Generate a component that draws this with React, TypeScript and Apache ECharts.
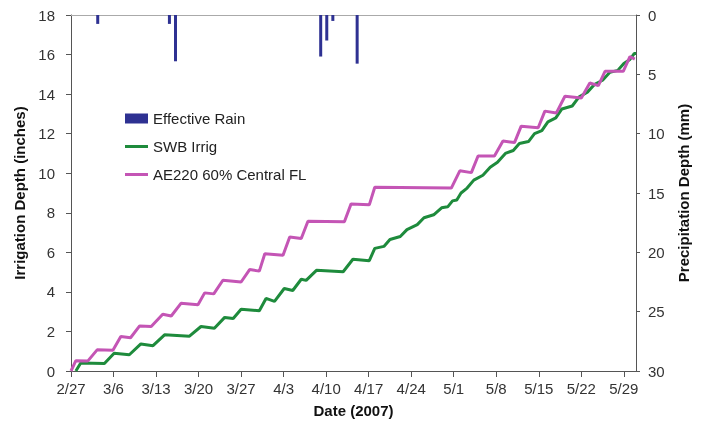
import React, { useEffect, useRef } from "react";
import * as echarts from "echarts";

// x values are days after 2/27/2007
const dateLabels = ["2/27", "3/6", "3/13", "3/20", "3/27", "4/3", "4/10", "4/17", "4/24", "5/1", "5/8", "5/15", "5/22", "5/29"];

const rainDays = [4.4, 16.2, 17.2, 41.1, 42.1, 43.1, 47.1];
const rainMm = [0.75, 0.75, 3.9, 3.5, 2.15, 0.5, 4.1];

const swbDays = [0.8, 1.6, 5.5, 7.1, 9.6, 11.5, 13.5, 15.4, 19.5, 21.4, 23.6, 25.3, 26.7, 28, 31, 32.1, 33.5, 35.1, 36.5, 37.9, 38.7, 40.4, 44.8, 46.4, 49.1, 50, 51.5, 52.5, 54.2, 55.3, 57, 58.1, 59.7, 61, 62, 62.8, 63.5, 64.2, 65.2, 66.3, 67.8, 69, 70.2, 71.5, 72.8, 73.8, 75.3, 76.3, 77.5, 78.5, 79.8, 80.8, 82.5, 83.6, 85, 86.2, 87.5, 88.7, 90, 91, 92, 92.7, 93];
const swbInches = [0, 0.4, 0.38, 0.9, 0.82, 1.37, 1.28, 1.83, 1.76, 2.25, 2.16, 2.71, 2.65, 3.12, 3.05, 3.67, 3.52, 4.17, 4.07, 4.64, 4.58, 5.09, 5.02, 5.65, 5.58, 6.2, 6.3, 6.65, 6.8, 7.15, 7.4, 7.75, 7.9, 8.25, 8.3, 8.6, 8.65, 9.0, 9.25, 9.65, 9.9, 10.3, 10.55, 11.0, 11.15, 11.5, 11.6, 12.0, 12.15, 12.6, 12.8, 13.25, 13.4, 13.85, 14.1, 14.5, 14.7, 15.1, 15.2, 15.55, 15.75, 16.05, 16.05];

const aeDays = [0, 0.8, 2.75, 4.3, 6.9, 8.2, 9.8, 11.3, 13.2, 15.1, 16.5, 18.1, 20.9, 22, 23.5, 25, 28, 29.4, 31, 31.9, 34.9, 36, 37.9, 39, 45, 46.1, 49.1, 50, 62.6, 64, 65.9, 67, 69.7, 71.1, 73, 74.1, 76.9, 78, 79.9, 81.3, 84, 85.4, 86.8, 87.9, 90.9, 92, 92.8];
const aeInches = [0, 0.52, 0.5, 1.07, 1.05, 1.74, 1.68, 2.28, 2.25, 2.87, 2.78, 3.42, 3.35, 3.95, 3.9, 4.59, 4.5, 5.13, 5.05, 5.93, 5.85, 6.77, 6.7, 7.57, 7.55, 8.45, 8.4, 9.29, 9.25, 10.12, 10.03, 10.87, 10.87, 11.63, 11.55, 12.38, 12.3, 13.14, 13.05, 13.89, 13.8, 14.56, 14.43, 15.15, 15.15, 15.9, 15.77];

const FONT = "Liberation Sans, Arial, sans-serif";
const RAIN = "#2E3192";
const SWB = "#1E8B3C";
const AE = "#C455B5";
const LINE_ICON = "path://M0 0H23V3H0Z";

export default function App() {
  const ref = useRef<HTMLDivElement>(null);
  useEffect(() => {
    if (!ref.current) return;
    const chart = echarts.init(ref.current, null, { renderer: "svg" });
    const zip = (a: number[], b: number[]) => a.map((v, i) => [v, b[i]]);
    chart.setOption({
      animation: false,
      textStyle: { fontFamily: FONT },
      grid: { left: 71, right: 68, top: 15, bottom: 50 },
      legend: {
        orient: "vertical",
        left: 120,
        top: 106,
        itemWidth: 23,
        itemHeight: 10,
        itemGap: 13,
        textStyle: { fontSize: 15, color: "#222", fontFamily: FONT },
        data: [
          { name: "Effective Rain", icon: "rect", itemStyle: { color: RAIN } },
          { name: "SWB Irrig", icon: LINE_ICON, itemStyle: { color: SWB } },
          { name: "AE220 60% Central FL", icon: LINE_ICON, itemStyle: { color: AE } },
        ],
      },
      xAxis: [
        {
          type: "value",
          min: 0,
          max: 93,
          interval: 7,
          name: "Date (2007)",
          nameLocation: "middle",
          nameGap: 32,
          nameTextStyle: { fontSize: 15, fontWeight: "bold", color: "#111", fontFamily: FONT },
          axisLine: { onZero: false, lineStyle: { color: "#555", width: 1 } },
          axisTick: { inside: false, length: 6, lineStyle: { color: "#555" } },
          axisLabel: {
            fontSize: 15,
            color: "#333",
            margin: 10,
            showMaxLabel: false,
            formatter: (v: number) => (v % 7 === 0 && dateLabels[v / 7] ? dateLabels[v / 7] : ""),
          },
          splitLine: { show: false },
        },
        {
          type: "value",
          position: "top",
          min: 0,
          max: 93,
          axisLine: { show: true, onZero: false, lineStyle: { color: "#aaa", width: 1 } },
          axisTick: { show: false },
          axisLabel: { show: false },
          splitLine: { show: false },
        },
      ],
      yAxis: [
        {
          type: "value",
          position: "left",
          min: 0,
          max: 18,
          interval: 2,
          name: "Irrigation Depth (inches)",
          nameLocation: "middle",
          nameRotate: 90,
          nameGap: 42,
          nameTextStyle: { fontSize: 15, fontWeight: "bold", color: "#111", fontFamily: FONT },
          axisLine: { show: true, onZero: false, lineStyle: { color: "#555", width: 1 } },
          axisTick: { show: true, length: 5, lineStyle: { color: "#555" } },
          axisLabel: { fontSize: 15, color: "#333", margin: 16 },
          splitLine: { show: false },
        },
        {
          type: "value",
          position: "right",
          min: 0,
          max: 30,
          interval: 5,
          inverse: true,
          name: "Precipitation Depth (mm)",
          nameLocation: "middle",
          nameRotate: 90,
          nameGap: 38,
          nameTextStyle: { fontSize: 15, fontWeight: "bold", color: "#111", fontFamily: FONT },
          axisLine: { show: true, onZero: false, lineStyle: { color: "#555", width: 1 } },
          axisTick: { show: true, length: 4, lineStyle: { color: "#555" } },
          axisLabel: { fontSize: 15, color: "#333", margin: 12 },
          splitLine: { show: false },
        },
      ],
      series: [
        {
          name: "Effective Rain",
          type: "bar",
          xAxisIndex: 0,
          yAxisIndex: 1,
          barWidth: 3,
          itemStyle: { color: RAIN },
          data: zip(rainDays, rainMm),
        },
        {
          name: "SWB Irrig",
          type: "line",
          xAxisIndex: 0,
          yAxisIndex: 0,
          symbol: "none",
          lineStyle: { color: SWB, width: 3 },
          itemStyle: { color: SWB },
          data: zip(swbDays, swbInches),
        },
        {
          name: "AE220 60% Central FL",
          type: "line",
          xAxisIndex: 0,
          yAxisIndex: 0,
          symbol: "none",
          lineStyle: { color: AE, width: 3 },
          itemStyle: { color: AE },
          data: zip(aeDays, aeInches),
        },
      ],
    });
    return () => chart.dispose();
  }, []);
  return <div ref={ref} style={{ position: "fixed", left: 0, top: 0, width: 704, height: 423 }} />;
}
